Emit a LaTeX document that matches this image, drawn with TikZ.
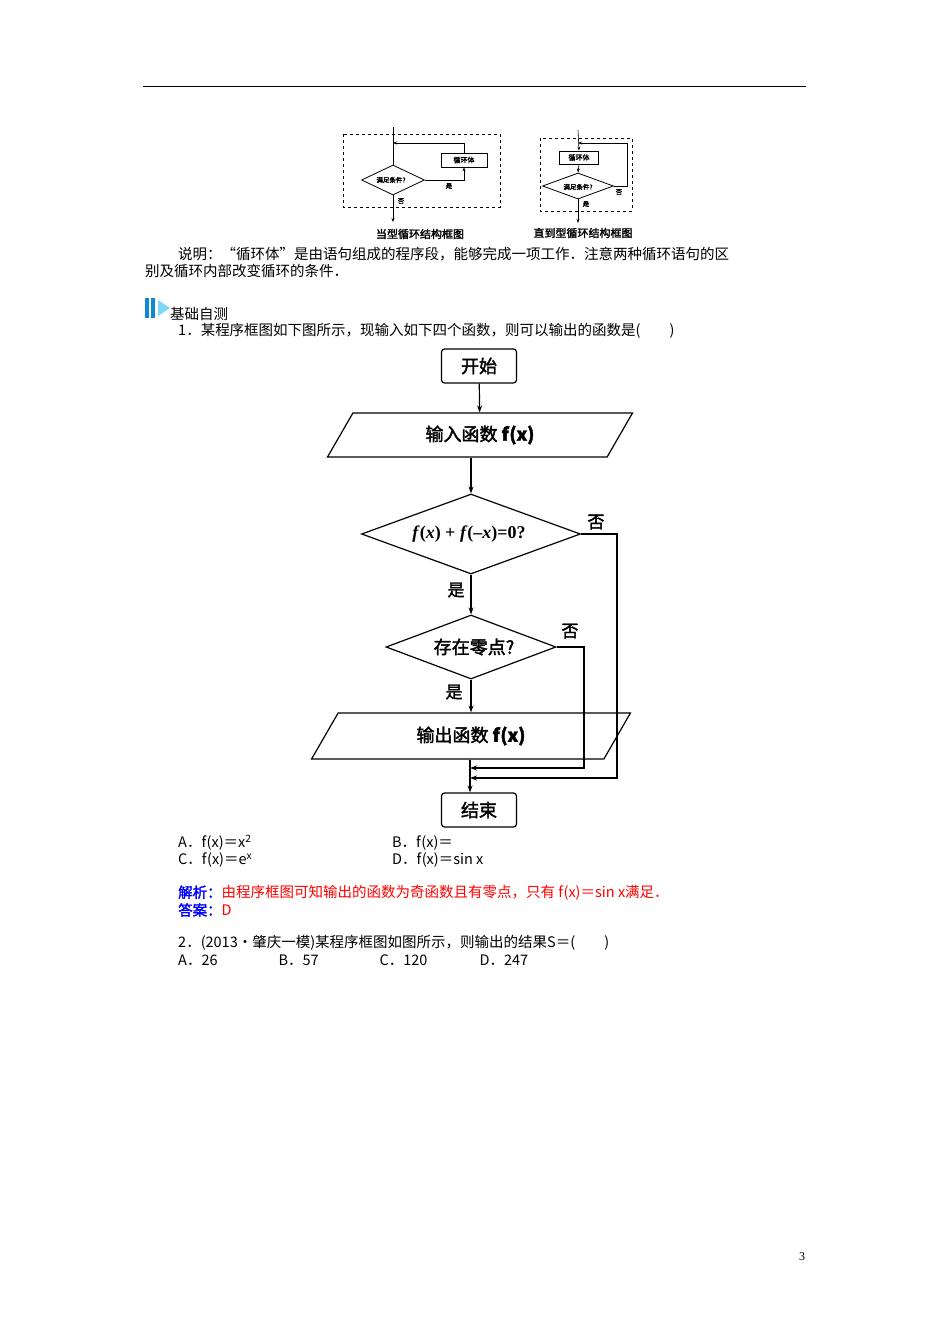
\documentclass[tikz,border=0pt]{standalone}
\usepackage{fontspec}
\setmainfont{Liberation Serif}
\newfontfamily\cjk{Noto Sans CJK SC}
\newfontfamily\cjkb[FakeBold=2]{Noto Sans CJK SC}
\usetikzlibrary{shapes.geometric,arrows.meta}
\begin{document}
\begin{tikzpicture}[x=1pt,y=-1pt,
  ln/.style={line width=1.2pt,-{Stealth[length=7pt,width=5pt]}},
  pl/.style={line width=1.2pt},
  sln/.style={line width=0.6pt,-{Stealth[length=4pt,width=3pt]}},
  spl/.style={line width=0.6pt},
  txt/.style={anchor=west,inner sep=0pt,font=\fontsize{14.5}{16}\selectfont\cjk},
  mono/.style={anchor=west,inner sep=0pt,font=\fontsize{14.5}{16}\selectfont\cjk},
  lab/.style={inner sep=0pt,font=\fontsize{17}{18}\selectfont\cjkb},
  sl/.style={inner sep=0pt,font=\fontsize{6.5}{7}\selectfont\cjkb},
  captxt/.style={inner sep=0pt,font=\fontsize{11}{12}\selectfont\cjkb},
  bigbox/.style={draw,line width=1.2pt,rounded corners=3pt,minimum width=75pt,minimum height=34pt,font=\fontsize{18}{20}\selectfont\cjkb},
  par/.style={draw,line width=1.2pt,trapezium,trapezium left angle=60,trapezium right angle=120,minimum height=44pt,inner sep=0pt},
  dia/.style={draw,line width=1.2pt,diamond,inner sep=0pt},
  sdia/.style={draw,line width=0.8pt,diamond,inner sep=0pt},
  sbox/.style={draw,line width=0.8pt,inner sep=0pt,font=\fontsize{7}{8}\selectfont\cjkb}]
\useasboundingbox (0,0) rectangle (950,1344);
\fill[white] (0,0) rectangle (950,1344);
\draw[line width=0.8pt] (143,86) coordinate (h1) -- (806,86) coordinate (h2);
% left small diagram
\draw[dashed,line width=0.6pt] (343,134) rectangle (500,207);
\node[sdia,minimum width=63pt,minimum height=30pt] (sd1) at (393,180) {};
\node[sl] at (391,180) {满足条件?};
\node[sbox,minimum width=46pt,minimum height=14pt] (sb1) at (464,160) {循环体};
\coordinate (st1) at (393,127);
\coordinate (se1) at (393,222);
\coordinate (lp1) at (393,143);
\coordinate (lc1) at (464,143);
\draw[spl] (st1) -- (sd1.north);
\draw[sln] (sd1.east) -| (sb1.south);
\draw[sln] (sb1.north) -- (lc1) -- (lp1);
\draw[sln] (sd1.south) -- (se1);
\node[sl] at (449,186) {是};
\node[sl] at (401,201) {否};
\node[captxt] at (420,234) {当型循环结构框图};
% right small diagram
\draw[dashed,line width=0.6pt] (540,138) rectangle (632,211);
\node[sbox,minimum width=39pt,minimum height=13pt] (sb2) at (579,157.5) {循环体};
\node[sdia,minimum width=71pt,minimum height=26pt] (sd2) at (578,186) {};
\node[sl] at (578,187) {满足条件?};
\coordinate (st2) at (578,130);
\coordinate (se2) at (578,223);
\coordinate (lp2) at (578,143);
\coordinate (lr2) at (627,143);
\coordinate (lr3) at (627,186);
\draw[sln] (st2) -- (sb2.north);
\draw[sln] (sb2.south) -- (sd2.north);
\draw[sln] (sd2.east) -- (lr3) -- (lr2) -- (lp2);
\draw[sln] (sd2.south) -- (se2);
\node[sl] at (619,192) {否};
\node[sl] at (586,204) {是};
\node[captxt] at (583,233) {直到型循环结构框图};
% texts
\node[txt] at (178,254) {说明：“循环体”是由语句组成的程序段，能够完成一项工作．注意两种循环语句的区};
\node[txt] at (145,271) {别及循环内部改变循环的条件．};
\fill[cyan!70!blue] (145,298) rectangle (149,318);
\fill[cyan!70!blue] (151,298) rectangle (155,318);
\fill[cyan!50] (158,300) -- (170,308) -- (158,316) -- cycle;
\node[txt] at (170,314) {基础自测};
\node[txt] at (178,331) {1．某程序框图如下图所示，现输入如下四个函数，则可以输出的函数是(\hspace{2em})};
% main flowchart
\node[bigbox] (start) at (479,366) {开始};
\node[par,minimum width=148pt] (inp) at (480,435) {\fontsize{18}{20}\selectfont\cjkb 输入函数 \textbf{\textit{f}(\textit{x})}};
\node[dia,minimum width=219pt,minimum height=80pt] (d1) at (471,534) {};
\node[font=\fontsize{18}{20}\selectfont\bfseries] at (469,534) {\textit{f}(\textit{x}) + \textit{f}(\textendash\textit{x})=0?};
\node[dia,minimum width=170pt,minimum height=64pt] (d2) at (471,647) {};
\node[font=\fontsize{18}{20}\selectfont\cjkb] at (474,647) {存在零点?};
\node[par,minimum width=148pt,minimum height=46pt] (outp) at (471,736) {\fontsize{18}{20}\selectfont\cjkb 输出函数 \textbf{\textit{f}(\textit{x})}};
\node[bigbox] (fin) at (479,810) {结束};
\coordinate (m1) at (470,768);
\coordinate (m2) at (470,778);
\coordinate (r2a) at (584,647);
\coordinate (r2b) at (584,768);
\coordinate (r1a) at (617,534);
\coordinate (r1b) at (617,778);
\draw[ln] (start) -- (inp);
\draw[ln] (inp.south -| d1.north) -- (d1.north);
\draw[ln] (d1.south) -- (d2.north);
\draw[ln] (d2.south) -- (outp.north -| d2.south);
\draw[ln] (outp.south -| m1) -- (fin.north -| m1);
\draw[ln] (d2.east) -- (r2a) -- (r2b) -- (m1);
\draw[ln] (d1.east) -- (r1a) -- (r1b) -- (m2);
\node[lab] at (596,522) {否};
\node[lab] at (456,590) {是};
\node[lab] at (570,631) {否};
\node[lab] at (454,692) {是};
% options
\node[mono] at (178,843) {A．\textit{f}(\textit{x})＝\textit{x}\textsuperscript{2}};
\node[mono] at (392,843) {B．\textit{f}(\textit{x})＝};
\node[mono] at (178,860) {C．\textit{f}(\textit{x})＝e\textsuperscript{\textit{x}}};
\node[mono] at (392,860) {D．\textit{f}(\textit{x})＝sin \textit{x}};
\node[txt] at (178,893) {\textcolor{blue}{\cjkb 解析：}\textcolor{red}{由程序框图可知输出的函数为奇函数且有零点，只有 \textit{f}(\textit{x})＝sin \textit{x}满足．}};
\node[txt] at (178,910) {\textcolor{blue}{\cjkb 答案：}\textcolor{red}{D}};
\node[txt] at (178,943) {2．(2013·肇庆一模)某程序框图如图所示，则输出的结果\textit{S}＝(\hspace{2em})};
\node[txt] at (178,960) {A．26\hspace{4.2em}B．57\hspace{4.2em}C．120\hspace{3.6em}D．247};
\node[inner sep=0pt,font=\fontsize{12}{13}\selectfont] at (802,1257) {3};
\end{tikzpicture}
\end{document}
